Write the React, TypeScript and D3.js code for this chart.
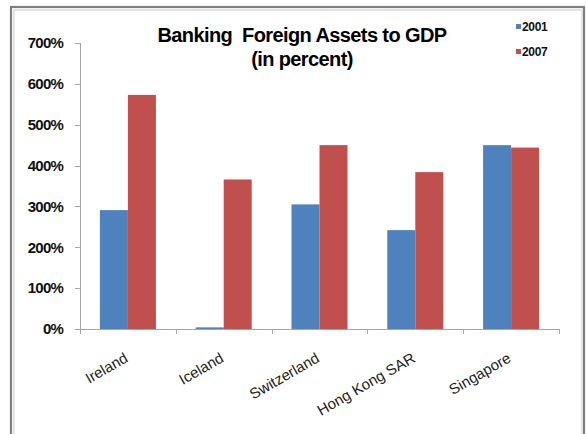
import React from "react";
import * as d3 from "d3";

const categories = ["Ireland", "Iceland", "Switzerland", "Hong Kong SAR", "Singapore"];
const series2001 = [291, 4, 305, 242, 450];
const series2007 = [573, 366, 450, 384, 444];
const seriesNames = ["2001", "2007"];
const yTicks = [0, 100, 200, 300, 400, 500, 600, 700];

const COLORS = ["#4F81BD", "#C0504D"];

export default function App() {
  const W = 586, H = 434;
  const x0 = 80, x1 = 559, yTop = 43, yBot = 329;
  const x = d3.scaleBand<string>().domain(categories).range([x0, x1]).paddingInner(0).paddingOuter(0);
  const y = d3.scaleLinear().domain([0, 700]).range([yBot, yTop]);
  const inner = d3.scaleBand<string>().domain(seriesNames).range([0, x.bandwidth()]).paddingInner(0).paddingOuter(0.71);
  const data = [series2001, series2007];
  const font = "'Liberation Sans', Arial, sans-serif";
  return (
    <svg width={W} height={H} style={{ position: "absolute", left: 0, top: 0 }} fontFamily={font}>
      <rect x={0} y={0} width={W} height={H} fill="#fff" />
      <rect x={11} y={7} width={573} height={440} fill="none" stroke="#7f7f7f" strokeWidth={2.2} />
      <rect x={14} y={10} width={568} height={440} fill="none" stroke="#c8c8c8" strokeWidth={1} />
      {/* bars */}
      {categories.map((c, i) =>
        data.map((s, j) => (
          <rect
            key={c + j}
            x={(x(c) as number) + (inner(seriesNames[j]) as number)}
            y={y(s[i])}
            width={inner.bandwidth()}
            height={yBot - y(s[i])}
            fill={COLORS[j]}
          />
        ))
      )}
      {/* y axis */}
      <line x1={x0 + 0.5} x2={x0 + 0.5} y1={yTop} y2={yBot} stroke="#a6a6a6" />
      {yTicks.map((t) => (
        <g key={t}>
          <line x1={x0 - 5} x2={x0} y1={Math.round(y(t)) + 0.5} y2={Math.round(y(t)) + 0.5} stroke="#a6a6a6" />
          <text x={63} y={y(t)} dy="0.35em" textAnchor="end" fontSize={15} fontWeight="bold" letterSpacing={-0.8} fill="#111">
            {t}%
          </text>
        </g>
      ))}
      {/* x axis */}
      <line x1={x0} x2={x1} y1={yBot + 0.5} y2={yBot + 0.5} stroke="#a6a6a6" />
      {[...categories.map((c) => x(c) as number), x1].map((px, i) => (
        <line key={i} x1={Math.round(px) + 0.5} x2={Math.round(px) + 0.5} y1={yBot} y2={yBot + 5} stroke="#a6a6a6" />
      ))}
      {categories.map((c) => {
        const cx = (x(c) as number) + x.bandwidth() / 2 + 1;
        const cy = 361;
        return (
          <text key={c} transform={`translate(${cx},${cy}) rotate(-30)`} textAnchor="end" fontSize={15} fill="#222">
            {c}
          </text>
        );
      })}
      {/* title */}
      <text x={302} y={42} textAnchor="middle" fontSize={20} fontWeight="bold" letterSpacing={-0.6} fill="#000" style={{ whiteSpace: "pre" }}>
        {"Banking  Foreign Assets to GDP"}
      </text>
      <text x={302} y={66} textAnchor="middle" fontSize={20} fontWeight="bold" letterSpacing={-0.6} fill="#000">
        (in percent)
      </text>
      {/* legend */}
      {seriesNames.map((n, j) => (
        <g key={n}>
          <rect x={516} y={24 + j * 25} width={5} height={5} fill={COLORS[j]} />
          <text x={522} y={27 + j * 25} dy="0.35em" fontSize={12} fontWeight="bold" letterSpacing={-0.3} fill="#111">
            {n}
          </text>
        </g>
      ))}
    </svg>
  );
}
